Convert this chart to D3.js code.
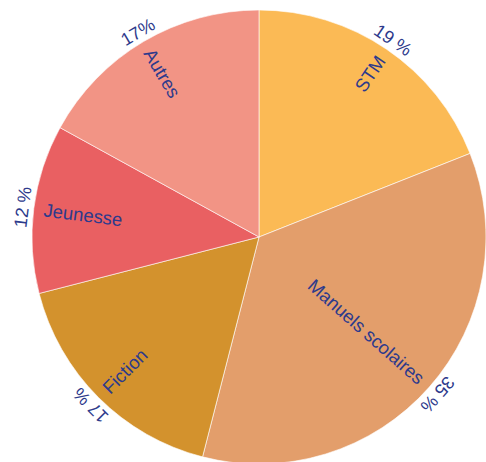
<!DOCTYPE html>
<html>
<head>
<meta charset="utf-8">
<script src="https://cdn.jsdelivr.net/npm/d3@7"></script>
<style>
  body { margin: 0; background: #fff; }
  text { font-family: "Liberation Sans", Arial, sans-serif; fill: #2d3a8c; }
</style>
</head>
<body>
<div id="canvas"></div>
<script>
// data
var categories = ["STM", "Manuels scolaires", "Fiction", "Jeunesse", "Autres"];
var values = [19, 35, 17, 12, 17];
var pctLabels = ["19 %", "35 %", "17 %", "12 %", "17%"];
var colors = ["#fbba55", "#e39e6b", "#d3922d", "#e96062", "#f29485"];

var width = 486, height = 462;
var cx = 259, cy = 237, radius = 227;

var svg = d3.select("#canvas")
  .append("svg")
  .attr("width", width)
  .attr("height", height)
  .append("g")
  .attr("transform", "translate(" + cx + "," + cy + ")");

var data = categories.map(function(c, i) {
  return {name: c, value: values[i], pct: pctLabels[i], color: colors[i]};
});

var pie = d3.pie().sort(null).value(function(d) { return d.value; });
var arc = d3.arc().innerRadius(0).outerRadius(radius);

var arcs = pie(data);

// slices
svg.selectAll("path")
  .data(arcs)
  .enter()
  .append("path")
  .attr("d", arc)
  .style("fill", function(d) { return d.data.color; })
  .style("stroke", "#fff")
  .style("stroke-width", 0.6);

function mid(d) { return (d.startAngle + d.endAngle) / 2; }

// category labels, along the radius
var labelR = 217;
svg.selectAll(".cat")
  .data(arcs)
  .enter()
  .append("text")
  .attr("class", "cat")
  .attr("font-size", 18.5)
  .attr("dominant-baseline", "central")
  .attr("text-anchor", function(d) { return mid(d) < Math.PI ? "end" : "start"; })
  .attr("transform", function(d) {
    var a = mid(d);
    var x = Math.sin(a) * labelR, y = -Math.cos(a) * labelR;
    var deg = a * 180 / Math.PI;
    var rot = a < Math.PI ? deg - 90 : deg + 90;
    return "translate(" + x + "," + y + ") rotate(" + rot + ")";
  })
  .text(function(d) { return d.data.name; });

// percentages, outside, tangent
svg.selectAll(".pct")
  .data(arcs)
  .enter()
  .append("text")
  .attr("class", "pct")
  .attr("font-size", 18)
  .attr("text-anchor", "middle")
  .attr("transform", function(d) {
    return "rotate(" + (mid(d) * 180 / Math.PI) + ") translate(0," + (-(radius + 5)) + ")";
  })
  .text(function(d) { return d.data.pct; });
</script>
</body>
</html>
